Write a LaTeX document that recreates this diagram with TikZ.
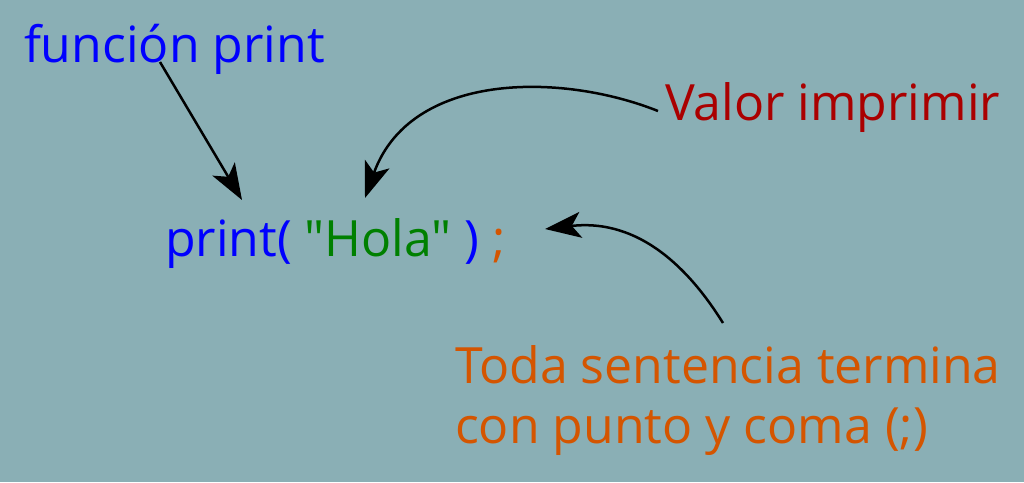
\documentclass[tikz,border=0pt]{standalone}
\usepackage{fontspec}
\newfontfamily\mainf{Open Sans}
\usetikzlibrary{arrows.meta}
\definecolor{bg}{HTML}{8AAFB5}
\definecolor{fblue}{HTML}{0000FF}
\definecolor{fgreen}{HTML}{008000}
\definecolor{forange}{HTML}{D45500}
\definecolor{fred}{HTML}{AA0000}
\begin{document}
\begin{tikzpicture}[x=1pt,y=-1pt,
  lbl/.style={inner sep=0pt,outer sep=0pt,anchor=base west,font=\mainf\fontsize{50}{60}\selectfont},
  arr/.style={line width=2.5pt,-{Stealth[length=36pt,width=26pt,inset=9pt]}}]
\fill[bg] (0,0) rectangle (1024,482);
\useasboundingbox (0,0) rectangle (1024,482);
\node[lbl,text=fblue] (fp) at (24,62) {función print};
\node[lbl] (code) at (165,256) {\color{fblue}print( \color{fgreen}"Hola" \color{fblue}) \color{forange};};
\node[lbl,text=fred] (vi) at (665,120) {Valor imprimir};
\node[lbl,text=fred,anchor=north west,text=forange,align=left] (ts) at (455,346) {Toda sentencia termina\\con punto y coma (;)};
\coordinate (a1s) at (160,62);
\coordinate (a1e) at (242,200);
\coordinate (a2s) at (658,111);
\coordinate (a2e) at (365,198);
\coordinate (a3s) at (723,323);
\coordinate (a3e) at (545,229);
\draw[arr] (a1s) -- (a1e);
\draw[arr] (a2s) .. controls (560,72) and (410,72) .. (a2e);
\draw[arr] (a3s) .. controls (690,270) and (640,218) .. (a3e);
\end{tikzpicture}
\end{document}
